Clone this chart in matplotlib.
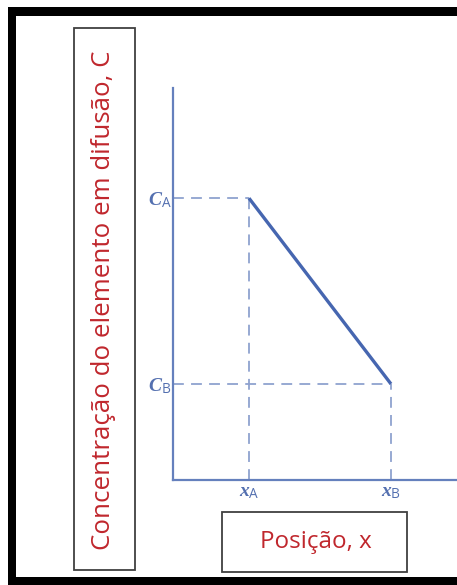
import matplotlib
matplotlib.use("Agg")
import matplotlib.pyplot as plt
from matplotlib.patches import Rectangle

# schematic values (arbitrary units)
positions = [1.0, 3.0]          # x_A, x_B
concentrations = [3.0, 1.0]     # C_A, C_B
x_labels = [r'$\mathit{x}_{\mathrm{A}}$', r'$\mathit{x}_{\mathrm{B}}$']
c_labels = [r'$\mathit{C}_{\mathrm{A}}$', r'$\mathit{C}_{\mathrm{B}}$']
ylabel_text = "Concentração do elemento em difusão, C"
xlabel_text = "Posição, x"

W, H = 457, 585
plt.rcParams['mathtext.fontset'] = 'custom'
plt.rcParams['mathtext.it'] = 'Liberation Serif:italic:bold'
plt.rcParams['mathtext.rm'] = 'Open Sans'
plt.rcParams['font.family'] = ['Open Sans', 'DejaVu Sans']

fig = plt.figure(figsize=(W / 100, H / 100), dpi=100)

# overlay in pixel coordinates for frame and label boxes
bg = fig.add_axes([0, 0, 1, 1], zorder=0)
bg.set_xlim(0, W)
bg.set_ylim(H, 0)
bg.axis('off')
for (x0, y0, w, h) in [(8, 7, 8, H - 7), (8, 7, W - 8, 9), (8, 577, W - 8, 8)]:
    bg.add_patch(Rectangle((x0, y0), w, h, facecolor='black', edgecolor='none'))

box_col = '#404040'
red = '#c0272d'
bg.add_patch(Rectangle((74, 28), 61, 542, facecolor='none', edgecolor=box_col, lw=1.3))
bg.text(104, 300, ylabel_text, rotation=90, ha='center', va='center',
        color=red, fontsize=18.6)
bg.add_patch(Rectangle((222, 512), 185, 60, facecolor='none', edgecolor=box_col, lw=1.3))
bg.text(316, 542, xlabel_text, ha='center', va='center', color=red, fontsize=17.4)

# main diagram
ax_left, ax_bottom_px, ax_top_px = 173, 480, 88
ax = fig.add_axes([ax_left / W, (H - ax_bottom_px) / H,
                   (W - ax_left) / W, (ax_bottom_px - ax_top_px) / H], zorder=1)
ax.patch.set_alpha(0)
ax.set_xlim(-0.07, 3.93)
ax.set_ylim(-0.034, 4.186)

axis_col = '#6580bd'
line_col = '#4666b0'
dash_col = '#8fa2cf'

for s in ['top', 'right']:
    ax.spines[s].set_visible(False)
for s in ['left', 'bottom']:
    ax.spines[s].set_color(axis_col)
    ax.spines[s].set_linewidth(1.6)

x0, y0 = ax.get_xlim()[0], ax.get_ylim()[0]
for xp, cp in zip(positions, concentrations):
    ax.plot([x0, xp], [cp, cp], color=dash_col, lw=1.3, dashes=(6, 4), zorder=1)
    ax.plot([xp, xp], [y0, cp], color=dash_col, lw=1.3, dashes=(6, 4), zorder=1)

ax.plot(positions, concentrations, color=line_col, lw=2.4, solid_capstyle='butt', zorder=2)

ax.set_xticks(positions)
ax.set_xticklabels(x_labels)
ax.set_yticks(concentrations)
ax.set_yticklabels(c_labels)
ax.tick_params(length=0, labelsize=14, labelcolor='#5470b0')
ax.tick_params(axis='x', pad=2)
ax.tick_params(axis='y', pad=1)

fig.savefig('out.png', dpi=100)
